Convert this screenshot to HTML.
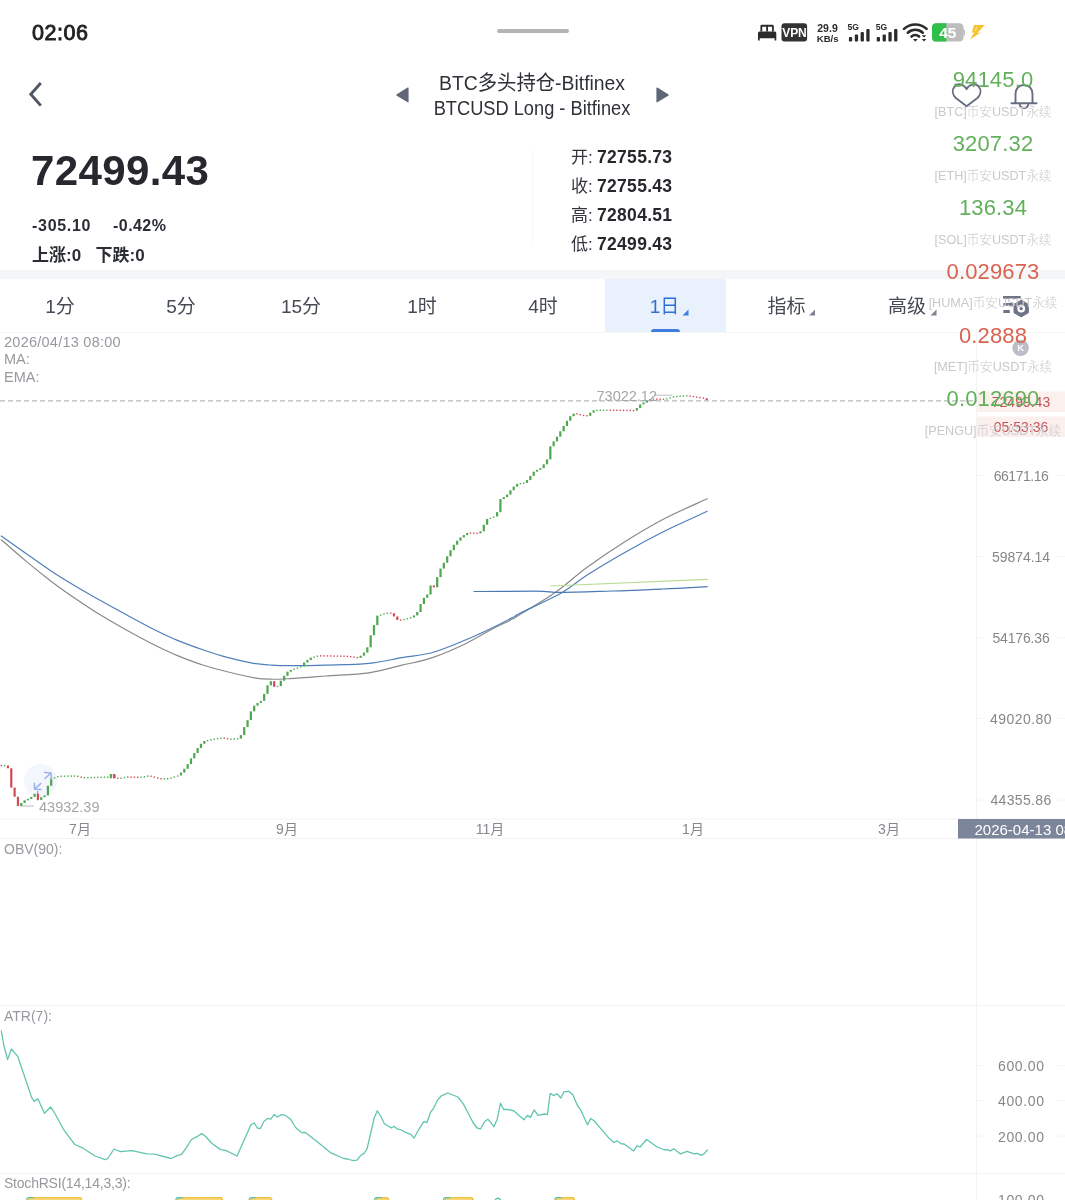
<!DOCTYPE html><html lang="zh"><head><meta charset="utf-8"><title>BTC多头持仓-Bitfinex</title><style>

*{margin:0;padding:0;box-sizing:border-box}
html,body{width:1065px;height:1200px;overflow:hidden;background:#fff}
body{font-family:"Liberation Sans","Noto Sans CJK SC",sans-serif;color:#2a2d34;position:relative}
.t{position:absolute;white-space:nowrap;line-height:1}
.b{font-weight:bold}
.c{transform:translateX(-50%)}
.ax{color:#85878a;font-size:14px;letter-spacing:-0.2px}
.lab{color:#96999e;font-size:14.5px}
.tv{font-size:22px;letter-spacing:0.15px}
.tl{font-size:12.6px;color:#c9c9cb;font-weight:300}
.g{color:#62b05a}.r{color:#d9634f}
.tab{font-size:19px;color:#454a54}
.box{position:absolute}
svg{position:absolute;left:0;top:0}

</style></head><body>
<div class="box" style="left:0;top:270px;width:1065px;height:9px;background:#f5f6f8"></div>
<div class="box" style="left:605px;top:279px;width:121px;height:53px;background:#e9f1fc"></div>
<div class="box" style="left:651px;top:328.5px;width:29px;height:4px;background:#3f7de0;border-radius:3px 3px 0 0"></div>
<div class="box" style="left:0;top:331.5px;width:1065px;height:1px;background:#f6f6f7"></div>
<div class="box" style="left:532px;top:150px;width:1px;height:95px;background:#f7f7f8"></div>
<div class="box" style="left:497px;top:28.5px;width:72px;height:4.5px;border-radius:3px;background:#b4b4b4"></div>
<div class="t" style="left:32px;top:22.5px;font-size:21.5px;font-weight:normal;-webkit-text-stroke:0.9px #222;color:#222;letter-spacing:0.55px">02:06</div>
<div class="t" style="left:432px;width:200px;text-align:center;top:73px;font-size:20.5px;color:#2e3138;transform:scaleX(0.944)">BTC多头持仓-Bitfinex</div>
<div class="t" style="left:422px;width:220px;text-align:center;top:97.5px;font-size:20px;color:#2e3138;transform:scaleX(0.912)">BTCUSD Long - Bitfinex</div>
<div class="t b" style="left:31px;top:150px;font-size:42px;letter-spacing:0.4px;color:#26282e">72499.43</div>
<div class="t b" style="left:32px;top:218px;font-size:16px;letter-spacing:0.7px">-305.10</div>
<div class="t b" style="left:113px;top:218px;font-size:16px;letter-spacing:0.45px">-0.42%</div>
<div class="t b" style="left:32px;top:247px;font-size:17px">上涨:0</div>
<div class="t b" style="left:95.5px;top:247px;font-size:17px">下跌:0</div>
<div class="t" style="left:571px;top:148.5px;font-size:17px;color:#33363d">开:</div>
<div class="t b" style="left:597px;top:149.0px;font-size:17.5px;letter-spacing:0.3px;color:#26282e">72755.73</div>
<div class="t" style="left:571px;top:177.7px;font-size:17px;color:#33363d">收:</div>
<div class="t b" style="left:597px;top:178.2px;font-size:17.5px;letter-spacing:0.3px;color:#26282e">72755.43</div>
<div class="t" style="left:571px;top:206.8px;font-size:17px;color:#33363d">高:</div>
<div class="t b" style="left:597px;top:207.3px;font-size:17.5px;letter-spacing:0.3px;color:#26282e">72804.51</div>
<div class="t" style="left:571px;top:235.9px;font-size:17px;color:#33363d">低:</div>
<div class="t b" style="left:597px;top:236.4px;font-size:17.5px;letter-spacing:0.3px;color:#26282e">72499.43</div>
<div class="t c tab" style="left:60px;top:297px">1分</div>
<div class="t c tab" style="left:181px;top:297px">5分</div>
<div class="t c tab" style="left:301px;top:297px">15分</div>
<div class="t c tab" style="left:422px;top:297px">1时</div>
<div class="t c tab" style="left:543px;top:297px">4时</div>
<div class="t c tab" style="left:664.5px;top:297px;color:#2f6fd8">1日</div>
<div class="t c tab" style="left:786.5px;top:297px">指标</div>
<div class="t c tab" style="left:907px;top:297px">高级</div>
<div class="t lab" style="left:4px;top:335px;letter-spacing:0.25px">2026/04/13 08:00</div>
<div class="t lab" style="left:4px;top:351.5px">MA:</div>
<div class="t lab" style="left:4px;top:369.5px">EMA:</div>
<div class="t lab" style="left:4px;top:841.5px;font-size:14px">OBV(90):</div>
<div class="t lab" style="left:4px;top:1009px;font-size:14px">ATR(7):</div>
<div class="t lab" style="left:4px;top:1176px;font-size:14px;letter-spacing:-0.22px">StochRSI(14,14,3,3):</div>
<svg width="1065" height="1200" viewBox="0 0 1065 1200">
<g stroke="#f3f3f4" stroke-width="1" fill="none">
<path d="M976.5 332V1200"/>
<path d="M0 819H1065M0 838.5H1065M0 1005.5H1065M0 1173.5H1065"/>
</g>
<g stroke="#f4f4f5" stroke-width="1">
<path d="M977 475.5H983.5M1057.5 475.5H1065"/>
<path d="M977 556.5H983.5M1057.5 556.5H1065"/>
<path d="M977 637.5H983.5M1057.5 637.5H1065"/>
<path d="M977 718.5H983.5M1057.5 718.5H1065"/>
<path d="M977 800.0H983.5M1057.5 800.0H1065"/>
<path d="M977 1065.5H983.5M1057.5 1065.5H1065"/>
<path d="M977 1100.5H983.5M1057.5 1100.5H1065"/>
<path d="M977 1136.0H983.5M1057.5 1136.0H1065"/>
</g>
<path d="M0 400.8H977" stroke="#b9b9b9" stroke-width="1.2" stroke-dasharray="5 3" fill="none"/>
<rect x="977" y="391.5" width="88" height="20.5" fill="#fcf0ef"/>
<rect x="977" y="416.5" width="88" height="20.5" fill="#fcf0ef"/>
<rect x="958" y="819" width="107" height="19.5" fill="#7c8599"/>
<g fill="none" stroke-width="1.2" stroke-linejoin="round" stroke-linecap="round">
<path stroke="#8a8a8c" d="M1.3 539.8C5.3 543.3 17.2 553.8 25.4 560.6C33.6 567.5 42.3 574.5 50.7 580.9C59.1 587.3 67.5 593.2 76.0 599.0C84.5 604.8 92.9 610.4 101.4 615.6C109.9 620.8 118.4 625.6 126.8 630.3C135.2 635.0 143.6 639.5 152.0 643.7C160.4 647.9 169.0 652.1 177.5 655.6C186.0 659.1 194.4 662.3 202.8 665.0C211.2 667.7 219.8 669.9 228.2 672.0C236.6 674.1 246.5 676.5 253.5 677.7C260.5 678.9 263.9 679.1 270.0 679.2C276.1 679.4 280.7 679.1 290.0 678.6C299.3 678.1 312.8 677.0 326.0 676.0C339.2 675.0 356.3 674.6 369.0 672.8C381.7 671.0 391.4 667.7 402.0 665.2C412.6 662.7 421.9 661.2 432.5 657.6C443.1 654.0 455.8 648.4 465.5 643.7C475.2 639.1 483.5 633.7 491.0 629.7C498.5 625.8 505.9 622.5 510.7 620.0C515.5 617.5 512.4 619.2 520.0 614.5C527.6 609.8 545.2 599.5 556.3 591.7C567.4 583.9 575.4 575.9 586.8 567.6C598.2 559.3 612.1 549.8 624.8 541.8C637.5 533.8 649.1 526.7 662.8 519.5C676.5 512.3 699.8 502.2 707.2 498.7"/>
<path stroke="#4f7fba" d="M1.3 536.0C5.3 538.8 17.2 547.2 25.4 553.0C33.6 558.8 42.3 565.1 50.7 570.7C59.1 576.3 67.5 581.4 76.0 586.4C84.5 591.4 92.9 596.2 101.4 601.0C109.9 605.8 118.4 610.4 126.8 615.0C135.2 619.6 143.6 624.3 152.0 628.5C160.4 632.7 169.0 636.9 177.5 640.4C186.0 643.9 194.4 646.9 202.8 649.8C211.2 652.7 219.8 655.5 228.2 657.7C236.6 660.0 246.5 662.1 253.5 663.3C260.5 664.5 264.2 664.6 270.0 665.0C275.8 665.4 278.7 665.7 288.0 665.7C297.3 665.7 312.5 665.6 326.0 665.2C339.5 664.8 356.3 664.7 369.0 663.4C381.7 662.1 391.4 659.4 402.0 657.6C412.6 655.8 421.9 655.4 432.5 652.5C443.1 649.6 455.8 644.0 465.5 640.0C475.2 636.0 482.8 632.4 491.0 628.5C499.2 624.6 509.7 619.0 514.5 616.5C519.3 614.0 512.2 617.1 520.0 613.2C527.8 609.3 550.3 599.3 561.4 593.0C572.5 586.7 576.2 582.0 586.8 575.2C597.4 568.4 612.1 559.6 624.8 552.4C637.5 545.2 649.1 538.9 662.8 532.0C676.5 525.1 699.8 514.8 707.2 511.3"/>
<path stroke="#4a79b3" d="M474.0 591.5C484.3 591.5 521.4 591.1 536.0 591.2C550.6 591.3 548.7 592.3 561.4 592.3C574.1 592.3 595.1 591.5 612.0 591.0C628.9 590.5 646.9 589.7 662.8 589.0C678.7 588.3 699.8 587.0 707.2 586.6"/>
<polyline stroke="#b9dc95" points="550.8,586.0 707.2,579.3"/>
<polyline stroke="#62c5b0" stroke-width="1.3" points="1.3,1031.0 4.0,1046.0 7.6,1059.6 11.4,1049.0 17.7,1056.3 31.7,1097.6 34.2,1101.4 38.0,1098.9 44.4,1113.3 50.7,1107.0 54.5,1112.8 63.4,1129.3 74.8,1144.5 82.4,1147.8 95.0,1156.0 105.2,1159.7 107.8,1158.5 114.0,1149.0 120.4,1151.6 131.8,1150.6 147.0,1153.9 154.7,1154.2 171.0,1158.5 177.5,1155.4 181.3,1154.7 186.4,1147.6 191.4,1139.5 197.8,1136.2 201.6,1133.6 205.4,1136.2 211.7,1143.3 220.6,1149.6 225.7,1150.4 237.0,1156.0 251.0,1124.7 254.3,1123.0 257.4,1128.0 260.4,1128.6 264.0,1121.2 267.7,1118.4 270.8,1119.2 274.0,1114.6 277.4,1117.0 281.7,1114.6 285.5,1115.4 290.6,1119.2 295.6,1127.5 301.5,1132.6 305.3,1132.4 316.0,1140.7 331.0,1152.9 343.8,1158.5 347.6,1159.0 352.7,1160.5 357.0,1160.2 361.0,1155.2 364.0,1153.4 367.0,1149.0 370.4,1134.4 374.2,1118.0 377.3,1110.8 380.6,1116.0 384.4,1123.7 388.2,1126.0 391.5,1128.0 394.0,1126.3 397.0,1128.8 400.9,1129.8 406.0,1132.6 411.0,1134.4 414.0,1138.2 418.6,1129.8 423.7,1121.7 427.0,1122.5 430.5,1112.3 433.8,1107.8 437.6,1100.0 441.4,1095.8 447.8,1093.0 457.9,1097.0 463.0,1103.4 468.0,1112.8 473.0,1122.5 477.0,1128.0 480.7,1128.8 484.5,1121.7 487.8,1119.2 490.9,1122.5 493.9,1126.8 497.2,1119.2 500.5,1103.2 503.6,1109.5 507.5,1109.3 514.0,1111.0 519.0,1115.4 524.0,1119.7 527.4,1115.4 530.4,1117.4 534.2,1109.8 538.0,1115.4 544.4,1114.0 547.4,1114.6 550.2,1093.3 553.8,1095.6 557.0,1093.8 560.9,1098.0 563.9,1091.8 569.0,1091.3 573.0,1095.0 577.3,1105.2 580.6,1109.8 587.5,1124.7 590.8,1118.4 594.3,1121.0 601.4,1129.3 609.0,1138.2 614.0,1142.5 617.0,1140.7 621.2,1143.8 624.2,1144.0 633.6,1150.9 637.0,1145.8 640.0,1147.0 646.6,1139.5 657.2,1147.0 664.8,1150.0 667.3,1149.6 670.4,1150.9 673.7,1148.8 680.5,1153.9 687.0,1151.4 694.0,1153.9 697.3,1153.4 701.0,1155.4 704.0,1153.9 707.4,1150.0"/>
</g>
<path d="M654 395.2H672M20 806H34" stroke="#bdbdbd" stroke-width="1" fill="none"/>
<circle cx="40.5" cy="780.5" r="16.5" fill="#f3f6fc"/>
<g shape-rendering="auto">
<rect x="0.60" y="764.80" width="1.4" height="1.40" fill="#d24a58"/><rect x="3.93" y="764.80" width="1.4" height="1.40" fill="#4ea64e"/><rect x="6.86" y="765.50" width="2.2" height="2.73" fill="#d24a58"/><rect x="10.18" y="768.23" width="2.2" height="19.34" fill="#d24a58"/><rect x="13.51" y="787.56" width="2.2" height="9.20" fill="#d24a58"/><rect x="16.84" y="796.76" width="2.2" height="9.20" fill="#d24a58"/><rect x="20.16" y="802.98" width="2.2" height="2.99" fill="#4ea64e"/><rect x="23.49" y="800.34" width="2.2" height="2.64" fill="#4ea64e"/><rect x="26.82" y="798.94" width="2.2" height="1.40" fill="#4ea64e"/><rect x="30.15" y="796.95" width="2.2" height="1.99" fill="#4ea64e"/><rect x="33.47" y="793.73" width="2.2" height="3.22" fill="#4ea64e"/><rect x="36.80" y="793.73" width="2.2" height="6.18" fill="#d24a58"/><rect x="40.13" y="797.22" width="2.2" height="2.69" fill="#4ea64e"/><rect x="43.46" y="795.44" width="2.2" height="1.79" fill="#4ea64e"/><rect x="46.78" y="785.76" width="2.2" height="9.68" fill="#4ea64e"/><rect x="50.11" y="778.45" width="2.2" height="7.30" fill="#4ea64e"/><rect x="53.84" y="777.07" width="1.4" height="1.40" fill="#4ea64e"/><rect x="57.17" y="775.99" width="1.4" height="1.40" fill="#4ea64e"/><rect x="60.49" y="775.56" width="1.4" height="1.40" fill="#4ea64e"/><rect x="63.82" y="775.51" width="1.4" height="1.40" fill="#4ea64e"/><rect x="67.15" y="775.45" width="1.4" height="1.40" fill="#4ea64e"/><rect x="70.48" y="775.40" width="1.4" height="1.40" fill="#4ea64e"/><rect x="73.80" y="775.35" width="1.4" height="1.40" fill="#4ea64e"/><rect x="77.13" y="775.62" width="1.4" height="1.40" fill="#d24a58"/><rect x="80.46" y="776.46" width="1.4" height="1.40" fill="#d24a58"/><rect x="83.79" y="776.97" width="1.4" height="1.40" fill="#4ea64e"/><rect x="87.11" y="776.90" width="1.4" height="1.40" fill="#4ea64e"/><rect x="90.44" y="776.84" width="1.4" height="1.40" fill="#4ea64e"/><rect x="93.77" y="776.78" width="1.4" height="1.40" fill="#4ea64e"/><rect x="97.10" y="776.71" width="1.4" height="1.40" fill="#4ea64e"/><rect x="100.42" y="776.65" width="1.4" height="1.40" fill="#4ea64e"/><rect x="103.75" y="776.59" width="1.4" height="1.40" fill="#4ea64e"/><rect x="107.08" y="776.41" width="1.4" height="1.40" fill="#4ea64e"/><rect x="110.01" y="774.64" width="2.2" height="2.31" fill="#4ea64e"/><rect x="113.34" y="774.64" width="2.2" height="3.40" fill="#d24a58"/><rect x="117.06" y="777.59" width="1.4" height="1.40" fill="#d24a58"/><rect x="120.39" y="777.56" width="1.4" height="1.40" fill="#4ea64e"/><rect x="123.72" y="776.80" width="1.4" height="1.40" fill="#4ea64e"/><rect x="127.05" y="776.35" width="1.4" height="1.40" fill="#d24a58"/><rect x="130.37" y="776.43" width="1.4" height="1.40" fill="#d24a58"/><rect x="133.70" y="776.51" width="1.4" height="1.40" fill="#d24a58"/><rect x="137.03" y="776.59" width="1.4" height="1.40" fill="#d24a58"/><rect x="140.36" y="776.61" width="1.4" height="1.40" fill="#4ea64e"/><rect x="143.68" y="776.12" width="1.4" height="1.40" fill="#4ea64e"/><rect x="147.01" y="775.37" width="1.4" height="1.40" fill="#4ea64e"/><rect x="150.34" y="775.54" width="1.4" height="1.40" fill="#d24a58"/><rect x="153.67" y="776.43" width="1.4" height="1.40" fill="#d24a58"/><rect x="156.99" y="777.32" width="1.4" height="1.40" fill="#d24a58"/><rect x="160.32" y="778.01" width="1.4" height="1.40" fill="#d24a58"/><rect x="163.65" y="778.18" width="1.4" height="1.40" fill="#4ea64e"/><rect x="166.98" y="778.00" width="1.4" height="1.40" fill="#4ea64e"/><rect x="170.30" y="777.38" width="1.4" height="1.40" fill="#4ea64e"/><rect x="173.63" y="776.37" width="1.4" height="1.40" fill="#4ea64e"/><rect x="176.96" y="775.31" width="1.4" height="1.40" fill="#4ea64e"/><rect x="179.89" y="772.60" width="2.2" height="2.86" fill="#4ea64e"/><rect x="183.21" y="768.78" width="2.2" height="3.83" fill="#4ea64e"/><rect x="186.54" y="764.13" width="2.2" height="4.65" fill="#4ea64e"/><rect x="189.87" y="758.39" width="2.2" height="5.74" fill="#4ea64e"/><rect x="193.20" y="753.02" width="2.2" height="5.37" fill="#4ea64e"/><rect x="196.52" y="748.06" width="2.2" height="4.96" fill="#4ea64e"/><rect x="199.85" y="743.77" width="2.2" height="4.30" fill="#4ea64e"/><rect x="203.18" y="741.05" width="2.2" height="2.72" fill="#4ea64e"/><rect x="206.91" y="739.96" width="1.4" height="1.40" fill="#4ea64e"/><rect x="210.23" y="739.19" width="1.4" height="1.40" fill="#4ea64e"/><rect x="213.56" y="738.55" width="1.4" height="1.40" fill="#4ea64e"/><rect x="216.89" y="738.02" width="1.4" height="1.40" fill="#4ea64e"/><rect x="220.22" y="737.50" width="1.4" height="1.40" fill="#4ea64e"/><rect x="223.54" y="737.35" width="1.4" height="1.40" fill="#d24a58"/><rect x="226.87" y="738.06" width="1.4" height="1.40" fill="#d24a58"/><rect x="230.20" y="738.52" width="1.4" height="1.40" fill="#4ea64e"/><rect x="233.53" y="738.26" width="1.4" height="1.40" fill="#4ea64e"/><rect x="236.85" y="737.99" width="1.4" height="1.40" fill="#4ea64e"/><rect x="239.78" y="735.13" width="2.2" height="3.43" fill="#4ea64e"/><rect x="243.11" y="727.06" width="2.2" height="8.07" fill="#4ea64e"/><rect x="246.44" y="720.12" width="2.2" height="6.95" fill="#4ea64e"/><rect x="249.76" y="711.36" width="2.2" height="8.76" fill="#4ea64e"/><rect x="253.09" y="705.63" width="2.2" height="5.73" fill="#4ea64e"/><rect x="256.42" y="702.93" width="2.2" height="2.69" fill="#4ea64e"/><rect x="259.75" y="700.89" width="2.2" height="2.04" fill="#4ea64e"/><rect x="263.07" y="693.82" width="2.2" height="7.07" fill="#4ea64e"/><rect x="266.40" y="685.29" width="2.2" height="8.53" fill="#4ea64e"/><rect x="269.73" y="681.20" width="2.2" height="4.09" fill="#4ea64e"/><rect x="273.06" y="681.20" width="2.2" height="5.58" fill="#d24a58"/><rect x="276.78" y="685.77" width="1.4" height="1.40" fill="#4ea64e"/><rect x="279.71" y="680.71" width="2.2" height="5.45" fill="#4ea64e"/><rect x="283.04" y="675.83" width="2.2" height="4.88" fill="#4ea64e"/><rect x="286.37" y="671.67" width="2.2" height="4.16" fill="#4ea64e"/><rect x="289.69" y="669.91" width="2.2" height="1.76" fill="#4ea64e"/><rect x="293.42" y="668.56" width="1.4" height="1.40" fill="#4ea64e"/><rect x="296.75" y="667.37" width="1.4" height="1.40" fill="#4ea64e"/><rect x="300.08" y="666.27" width="1.4" height="1.40" fill="#4ea64e"/><rect x="303.00" y="662.47" width="2.2" height="3.94" fill="#4ea64e"/><rect x="306.33" y="659.99" width="2.2" height="2.49" fill="#4ea64e"/><rect x="309.66" y="657.70" width="2.2" height="2.29" fill="#4ea64e"/><rect x="313.39" y="656.43" width="1.4" height="1.40" fill="#4ea64e"/><rect x="316.71" y="655.49" width="1.4" height="1.40" fill="#4ea64e"/><rect x="320.04" y="655.14" width="1.4" height="1.40" fill="#d24a58"/><rect x="323.37" y="655.20" width="1.4" height="1.40" fill="#d24a58"/><rect x="326.70" y="655.26" width="1.4" height="1.40" fill="#d24a58"/><rect x="330.02" y="655.31" width="1.4" height="1.40" fill="#d24a58"/><rect x="333.35" y="655.37" width="1.4" height="1.40" fill="#d24a58"/><rect x="336.68" y="655.42" width="1.4" height="1.40" fill="#d24a58"/><rect x="340.01" y="655.48" width="1.4" height="1.40" fill="#d24a58"/><rect x="343.33" y="655.53" width="1.4" height="1.40" fill="#d24a58"/><rect x="346.66" y="655.65" width="1.4" height="1.40" fill="#d24a58"/><rect x="349.99" y="655.98" width="1.4" height="1.40" fill="#d24a58"/><rect x="353.32" y="656.44" width="1.4" height="1.40" fill="#d24a58"/><rect x="356.64" y="656.90" width="1.4" height="1.40" fill="#d24a58"/><rect x="359.57" y="655.71" width="2.2" height="2.13" fill="#4ea64e"/><rect x="362.90" y="652.60" width="2.2" height="3.11" fill="#4ea64e"/><rect x="366.23" y="647.33" width="2.2" height="5.27" fill="#4ea64e"/><rect x="369.55" y="635.23" width="2.2" height="12.09" fill="#4ea64e"/><rect x="372.88" y="625.08" width="2.2" height="10.16" fill="#4ea64e"/><rect x="376.21" y="615.62" width="2.2" height="9.46" fill="#4ea64e"/><rect x="379.94" y="614.32" width="1.4" height="1.40" fill="#4ea64e"/><rect x="383.26" y="613.33" width="1.4" height="1.40" fill="#4ea64e"/><rect x="386.59" y="612.65" width="1.4" height="1.40" fill="#4ea64e"/><rect x="389.92" y="612.45" width="1.4" height="1.40" fill="#d24a58"/><rect x="392.85" y="613.23" width="2.2" height="3.21" fill="#d24a58"/><rect x="396.17" y="616.44" width="2.2" height="3.51" fill="#d24a58"/><rect x="399.90" y="619.29" width="1.4" height="1.40" fill="#d24a58"/><rect x="403.23" y="618.91" width="1.4" height="1.40" fill="#4ea64e"/><rect x="406.56" y="618.04" width="1.4" height="1.40" fill="#4ea64e"/><rect x="409.88" y="617.18" width="1.4" height="1.40" fill="#4ea64e"/><rect x="412.81" y="615.39" width="2.2" height="2.06" fill="#4ea64e"/><rect x="416.14" y="612.06" width="2.2" height="3.33" fill="#4ea64e"/><rect x="419.47" y="604.08" width="2.2" height="7.98" fill="#4ea64e"/><rect x="422.79" y="597.81" width="2.2" height="6.27" fill="#4ea64e"/><rect x="426.12" y="594.48" width="2.2" height="3.33" fill="#4ea64e"/><rect x="429.45" y="585.43" width="2.2" height="9.05" fill="#4ea64e"/><rect x="432.77" y="585.43" width="2.2" height="1.84" fill="#d24a58"/><rect x="436.10" y="577.15" width="2.2" height="10.12" fill="#4ea64e"/><rect x="439.43" y="568.57" width="2.2" height="8.57" fill="#4ea64e"/><rect x="442.76" y="562.75" width="2.2" height="5.82" fill="#4ea64e"/><rect x="446.08" y="556.25" width="2.2" height="6.50" fill="#4ea64e"/><rect x="449.41" y="550.18" width="2.2" height="6.07" fill="#4ea64e"/><rect x="452.74" y="544.74" width="2.2" height="5.43" fill="#4ea64e"/><rect x="456.07" y="540.72" width="2.2" height="4.03" fill="#4ea64e"/><rect x="459.39" y="537.45" width="2.2" height="3.27" fill="#4ea64e"/><rect x="462.72" y="535.10" width="2.2" height="2.35" fill="#4ea64e"/><rect x="466.05" y="533.01" width="2.2" height="2.09" fill="#4ea64e"/><rect x="469.78" y="532.36" width="1.4" height="1.40" fill="#d24a58"/><rect x="473.11" y="532.47" width="1.4" height="1.40" fill="#d24a58"/><rect x="476.43" y="532.58" width="1.4" height="1.40" fill="#d24a58"/><rect x="479.36" y="531.28" width="2.2" height="2.05" fill="#4ea64e"/><rect x="482.69" y="524.75" width="2.2" height="6.53" fill="#4ea64e"/><rect x="486.01" y="518.96" width="2.2" height="5.79" fill="#4ea64e"/><rect x="489.74" y="517.63" width="1.4" height="1.40" fill="#4ea64e"/><rect x="493.07" y="516.37" width="1.4" height="1.40" fill="#4ea64e"/><rect x="496.00" y="512.14" width="2.2" height="4.30" fill="#4ea64e"/><rect x="499.32" y="499.02" width="2.2" height="13.12" fill="#4ea64e"/><rect x="502.65" y="497.10" width="2.2" height="1.91" fill="#4ea64e"/><rect x="505.98" y="494.60" width="2.2" height="2.51" fill="#4ea64e"/><rect x="509.31" y="490.27" width="2.2" height="4.33" fill="#4ea64e"/><rect x="512.63" y="486.61" width="2.2" height="3.66" fill="#4ea64e"/><rect x="515.96" y="483.87" width="2.2" height="2.73" fill="#4ea64e"/><rect x="519.69" y="482.93" width="1.4" height="1.40" fill="#4ea64e"/><rect x="523.02" y="482.44" width="1.4" height="1.40" fill="#4ea64e"/><rect x="525.94" y="480.09" width="2.2" height="2.80" fill="#4ea64e"/><rect x="529.27" y="475.87" width="2.2" height="4.22" fill="#4ea64e"/><rect x="532.60" y="471.68" width="2.2" height="4.19" fill="#4ea64e"/><rect x="535.93" y="469.81" width="2.2" height="1.87" fill="#4ea64e"/><rect x="539.25" y="468.14" width="2.2" height="1.67" fill="#4ea64e"/><rect x="542.58" y="464.33" width="2.2" height="3.80" fill="#4ea64e"/><rect x="545.91" y="459.38" width="2.2" height="4.95" fill="#4ea64e"/><rect x="549.24" y="446.25" width="2.2" height="13.13" fill="#4ea64e"/><rect x="552.56" y="441.41" width="2.2" height="4.84" fill="#4ea64e"/><rect x="555.89" y="436.69" width="2.2" height="4.72" fill="#4ea64e"/><rect x="559.22" y="431.32" width="2.2" height="5.37" fill="#4ea64e"/><rect x="562.55" y="425.98" width="2.2" height="5.34" fill="#4ea64e"/><rect x="565.88" y="420.76" width="2.2" height="5.22" fill="#4ea64e"/><rect x="569.20" y="416.19" width="2.2" height="4.57" fill="#4ea64e"/><rect x="572.53" y="413.66" width="2.2" height="2.53" fill="#4ea64e"/><rect x="576.26" y="413.11" width="1.4" height="1.40" fill="#d24a58"/><rect x="579.58" y="413.91" width="1.4" height="1.40" fill="#d24a58"/><rect x="582.91" y="414.76" width="1.4" height="1.40" fill="#d24a58"/><rect x="586.24" y="415.06" width="1.4" height="1.40" fill="#d24a58"/><rect x="589.17" y="412.68" width="2.2" height="3.18" fill="#4ea64e"/><rect x="592.50" y="410.37" width="2.2" height="2.31" fill="#4ea64e"/><rect x="596.22" y="409.65" width="1.4" height="1.40" fill="#4ea64e"/><rect x="599.55" y="409.61" width="1.4" height="1.40" fill="#4ea64e"/><rect x="602.88" y="409.57" width="1.4" height="1.40" fill="#4ea64e"/><rect x="606.20" y="409.53" width="1.4" height="1.40" fill="#4ea64e"/><rect x="609.53" y="409.52" width="1.4" height="1.40" fill="#d24a58"/><rect x="612.86" y="409.56" width="1.4" height="1.40" fill="#d24a58"/><rect x="616.19" y="409.61" width="1.4" height="1.40" fill="#d24a58"/><rect x="619.51" y="409.66" width="1.4" height="1.40" fill="#d24a58"/><rect x="622.84" y="409.71" width="1.4" height="1.40" fill="#d24a58"/><rect x="626.17" y="409.75" width="1.4" height="1.40" fill="#d24a58"/><rect x="629.50" y="409.80" width="1.4" height="1.40" fill="#d24a58"/><rect x="632.82" y="409.85" width="1.4" height="1.40" fill="#d24a58"/><rect x="635.75" y="408.08" width="2.2" height="2.49" fill="#4ea64e"/><rect x="639.08" y="404.42" width="2.2" height="3.66" fill="#4ea64e"/><rect x="642.41" y="402.59" width="2.2" height="1.83" fill="#4ea64e"/><rect x="645.73" y="400.85" width="2.2" height="1.75" fill="#4ea64e"/><rect x="649.06" y="399.21" width="2.2" height="1.63" fill="#4ea64e"/><rect x="652.79" y="398.45" width="1.4" height="1.40" fill="#4ea64e"/><rect x="656.12" y="398.45" width="1.4" height="1.40" fill="#d24a58"/><rect x="659.44" y="398.55" width="1.4" height="1.40" fill="#d24a58"/><rect x="662.77" y="398.59" width="1.4" height="1.40" fill="#4ea64e"/><rect x="666.10" y="398.10" width="1.4" height="1.40" fill="#4ea64e"/><rect x="669.43" y="397.18" width="1.4" height="1.40" fill="#4ea64e"/><rect x="672.75" y="396.25" width="1.4" height="1.40" fill="#4ea64e"/><rect x="676.08" y="395.69" width="1.4" height="1.40" fill="#4ea64e"/><rect x="679.41" y="395.48" width="1.4" height="1.40" fill="#4ea64e"/><rect x="682.74" y="395.27" width="1.4" height="1.40" fill="#4ea64e"/><rect x="686.06" y="395.14" width="1.4" height="1.40" fill="#4ea64e"/><rect x="689.39" y="395.37" width="1.4" height="1.40" fill="#d24a58"/><rect x="692.72" y="395.88" width="1.4" height="1.40" fill="#d24a58"/><rect x="696.05" y="396.39" width="1.4" height="1.40" fill="#d24a58"/><rect x="699.37" y="396.88" width="1.4" height="1.40" fill="#d24a58"/><rect x="702.70" y="397.36" width="1.4" height="1.40" fill="#d24a58"/><rect x="705.63" y="398.30" width="2.2" height="1.75" fill="#d24a58"/><rect x="109.80" y="774.00" width="2" height="4.40" fill="#4ea64e"/><rect x="113.10" y="774.00" width="2" height="4.40" fill="#d24a58"/><rect x="37.4" y="791" width="0.8" height="9.5" fill="#d24a58"/>
</g>
<g fill="none" stroke="#9cb0ea" stroke-width="1.5" stroke-linecap="round" stroke-linejoin="round">
<path d="M45 778.5L51 773M44.6 772.6L51.1 772.9L51.3 779.2"/>
<path d="M40.6 783.6L34.7 789M34.3 783.2L34.6 789.2L41 789.4"/>
</g>
<g fill="none" stroke="#505663" stroke-width="2.9" stroke-linecap="butt" stroke-linejoin="miter"><path d="M40.8 83L30.8 94.3L40.8 105.6"/></g>
<path d="M407.6 87.6L396.8 94.2Q395.6 94.9 396.8 95.7L407.6 102.3Q408.6 102.8 408.6 101.6V88.3Q408.6 87.1 407.6 87.6Z" fill="#5f6675"/>
<path d="M657.4 87.6L668.2 94.2Q669.4 94.9 668.2 95.7L657.4 102.3Q656.4 102.8 656.4 101.6V88.3Q656.4 87.1 657.4 87.6Z" fill="#5f6675"/>
<path d="M688.5 309.5V315.5H682.5Z" fill="#3f7de0"/>
<path d="M815 309.5V315.5H809Z" fill="#7d838f"/>
<path d="M936.5 309.5V315.5H930.5Z" fill="#7d838f"/>
<g fill="none" stroke="#676e80" stroke-width="1.9" stroke-linejoin="round" stroke-linecap="round">
<path d="M966.6 89.2C964.6 84.6 958.2 82.4 954.7 86.4C951.4 90.2 952.6 94.8 955.8 98L966.6 106.3L977.4 98C980.6 94.8 981.8 90.2 978.5 86.4C975 82.4 968.6 84.6 966.6 89.2Z"/>
<path d="M1015.5 103.3V94C1015.5 88.6 1019 85 1024 85C1029 85 1032.5 88.6 1032.5 94V103.3M1011.5 103.3H1036.5M1019.6 103.6A4.4 4.4 0 0 0 1028.4 103.6"/>
</g>
<g fill="#6d7485"><rect x="1003" y="296" width="17.7" height="2.8" rx="0.5"/><rect x="1003.3" y="302.9" width="9.6" height="2.8" rx="0.5"/><rect x="1003.3" y="310.1" width="6.6" height="2.8" rx="0.5"/>
<path d="M1021.2 300.2L1028.4 304.4V312.7L1021.2 316.9L1014 312.7V304.4Z" stroke="#6d7485" stroke-width="1" stroke-linejoin="round"/><circle cx="1021.2" cy="308.6" r="3.9" fill="#fff"/><circle cx="1021.2" cy="308.6" r="1.7"/></g>
<circle cx="1020.6" cy="347.9" r="8.2" fill="#bbbec6"/>
<text x="1020.7" y="351.3" font-size="9.5" font-weight="bold" fill="#fff" text-anchor="middle" font-family="Liberation Sans, sans-serif">K</text>
<g fill="#2b2b2b">
<path d="M760.4 31.6V26.2Q760.4 24.8 761.8 24.8H772.4Q773.8 24.8 773.8 26.2V31.6H772V26.8H768V31.6H766.2V26.8H762.2V31.6Z"/>
<path d="M758 33Q758 31.5 759.5 31.5H774.8Q776.3 31.5 776.3 33V40.6H774.6V38.2H759.7V40.6H758Z"/>
<rect x="781.5" y="23.2" width="25.6" height="18.4" rx="3" fill="#333"/>
<rect x="848.9" y="37.0" width="3.3" height="4.6" rx="1"/>
<rect x="854.8" y="34.5" width="3.3" height="7.1" rx="1"/>
<rect x="860.6" y="32.0" width="3.3" height="9.6" rx="1"/>
<rect x="866.3" y="29.0" width="3.3" height="12.6" rx="1"/>
<rect x="876.7" y="37.0" width="3.3" height="4.6" rx="1"/>
<rect x="882.6" y="34.5" width="3.3" height="7.1" rx="1"/>
<rect x="888.4" y="32.0" width="3.3" height="9.6" rx="1"/>
<rect x="894.1" y="29.0" width="3.3" height="12.6" rx="1"/>
<path d="M913 38.9H917.6L915.3 41.7Z"/><path d="M924 37.6L926.3 35.2L921.7 35.2ZM921.7 39H926.3L924 41.6Z" transform="translate(0,0)"/>
</g>
<g fill="none" stroke="#2b2b2b" stroke-width="2.6" stroke-linecap="round">
<path d="M904.0 28.9A16.6 16.6 0 0 1 926.6 28.9"/>
<path d="M907.8 32.7A11.2 11.2 0 0 1 922.8 32.7"/>
<path d="M911.5 36.5A5.9 5.9 0 0 1 919.1 36.5"/>
</g>
<rect x="932" y="23.3" width="31.6" height="18.3" rx="4.2" fill="#bdbdbd"/>
<path d="M936.2 23.3H946.3V41.6H936.2Q932 41.6 932 37.4V27.5Q932 23.3 936.2 23.3Z" fill="#30c04a"/>
<rect x="963.4" y="29.6" width="1.6" height="6" rx="0.8" fill="#bdbdbd"/>
<path d="M974 25L984.9 25L977 33.2L981 32.2L970.2 39.6L974.4 32L971.6 32.9Z" fill="#f3c330"/>
<path d="M977.2 26.6L975 31.2" stroke="#fff" stroke-width="0.8" opacity="0.7"/>
<rect x="28.3" y="1197.6" width="53.4" height="6" rx="2.5" fill="#f7d778" stroke="#efc040" stroke-width="1.2"/>
<path d="M26.8 1201V1199.6Q26.8 1197.6 28.8 1197.6H33.8" fill="none" stroke="#5cc4ae" stroke-width="1.3"/>
<rect x="177.5" y="1197.6" width="45.0" height="6" rx="2.5" fill="#f7d778" stroke="#efc040" stroke-width="1.2"/>
<path d="M176.0 1201V1199.6Q176.0 1197.6 178.0 1197.6H183.0" fill="none" stroke="#5cc4ae" stroke-width="1.3"/>
<rect x="250.8" y="1197.6" width="21.0" height="6" rx="2.5" fill="#f7d778" stroke="#efc040" stroke-width="1.2"/>
<path d="M249.3 1201V1199.6Q249.3 1197.6 251.3 1197.6H256.3" fill="none" stroke="#5cc4ae" stroke-width="1.3"/>
<rect x="376.1" y="1197.6" width="12.6" height="6" rx="2.5" fill="#f7d778" stroke="#efc040" stroke-width="1.2"/>
<path d="M374.6 1201V1199.6Q374.6 1197.6 376.6 1197.6H381.6" fill="none" stroke="#5cc4ae" stroke-width="1.3"/>
<rect x="445.2" y="1197.6" width="28.0" height="6" rx="2.5" fill="#f7d778" stroke="#efc040" stroke-width="1.2"/>
<path d="M443.7 1201V1199.6Q443.7 1197.6 445.7 1197.6H450.7" fill="none" stroke="#5cc4ae" stroke-width="1.3"/>
<rect x="556.5" y="1197.6" width="18.1" height="6" rx="2.5" fill="#f7d778" stroke="#efc040" stroke-width="1.2"/>
<path d="M555.0 1201V1199.6Q555.0 1197.6 557.0 1197.6H562.0" fill="none" stroke="#5cc4ae" stroke-width="1.3"/>
<path d="M494.4 1201Q497.9 1195.5 501.4 1201" fill="none" stroke="#5cc4ae" stroke-width="1.3"/>
</svg>
<div class="t b c" style="left:794.4px;top:26.6px;font-size:12px;color:#fff;letter-spacing:-0.2px">VPN</div>
<div class="t b c" style="left:827.5px;top:22.8px;font-size:10.5px;color:#2b2b2b">29.9</div>
<div class="t b c" style="left:827.7px;top:33.6px;font-size:9.6px;color:#2b2b2b">KB/s</div>
<div class="t b" style="left:847.6px;top:23.3px;font-size:8.6px;color:#2b2b2b">5G</div>
<div class="t b" style="left:875.8px;top:23.3px;font-size:8.6px;color:#2b2b2b">5G</div>
<div class="t b c" style="left:947.8px;top:24.8px;font-size:15.5px;color:#fff">45</div>
<div class="t" style="left:596.5px;top:389px;font-size:14.5px;color:#a4a6aa">73022.12</div>
<div class="t" style="left:39px;top:800px;font-size:14.5px;color:#a4a6aa">43932.39</div>
<div class="t ax c" style="left:1021px;top:469.2px;letter-spacing:-0.49px">66171.16</div>
<div class="t ax c" style="left:1021px;top:550.1px;letter-spacing:-0.06px">59874.14</div>
<div class="t ax c" style="left:1021px;top:631.0px;letter-spacing:-0.17px">54176.36</div>
<div class="t ax c" style="left:1021px;top:712.2px;letter-spacing:0.43px">49020.80</div>
<div class="t ax c" style="left:1021px;top:793.4px;letter-spacing:0.34px">44355.86</div>
<div class="t ax c" style="left:1021.3px;top:1058.8px;letter-spacing:0.62px">600.00</div>
<div class="t ax c" style="left:1021.3px;top:1094.1px;letter-spacing:0.62px">400.00</div>
<div class="t ax c" style="left:1021.3px;top:1129.6px;letter-spacing:0.62px">200.00</div>
<div class="t ax c" style="left:1021.3px;top:1193.2px;letter-spacing:0.62px">100.00</div>
<div class="t c" style="left:1021px;top:395px;font-size:14px;letter-spacing:0px;color:#c4535a">72499.43</div>
<div class="t c" style="left:1021px;top:420px;font-size:14px;color:#c4535a">05:53:36</div>
<div class="t c" style="left:80px;top:822px;font-size:14px;color:#85888d">7月</div>
<div class="t c" style="left:287px;top:822px;font-size:14px;color:#85888d">9月</div>
<div class="t c" style="left:490px;top:822px;font-size:14px;color:#85888d">11月</div>
<div class="t c" style="left:693px;top:822px;font-size:14px;color:#85888d">1月</div>
<div class="t c" style="left:889px;top:822px;font-size:14px;color:#85888d">3月</div>
<div class="t" style="left:974.5px;top:821.5px;font-size:15px;color:#fff">2026-04-13 08:00</div>
<div class="t c tv g" style="left:993px;top:69.1px">94145.0</div>
<div class="t c tl" style="left:993px;top:106.1px">[BTC]币安USDT永续</div>
<div class="t c tv g" style="left:993px;top:132.9px">3207.32</div>
<div class="t c tl" style="left:993px;top:169.8px">[ETH]币安USDT永续</div>
<div class="t c tv g" style="left:993px;top:196.8px">136.34</div>
<div class="t c tl" style="left:993px;top:233.5px">[SOL]币安USDT永续</div>
<div class="t c tv r" style="left:993px;top:260.6px">0.029673</div>
<div class="t c tl" style="left:993px;top:297.2px">[HUMA]币安USDT永续</div>
<div class="t c tv r" style="left:993px;top:324.5px">0.2888</div>
<div class="t c tl" style="left:993px;top:360.9px">[MET]币安USDT永续</div>
<div class="t c tv g" style="left:993px;top:388.4px">0.012690</div>
<div class="t c tl" style="left:993px;top:424.6px">[PENGU]币安USDT永续</div>
</body></html>
